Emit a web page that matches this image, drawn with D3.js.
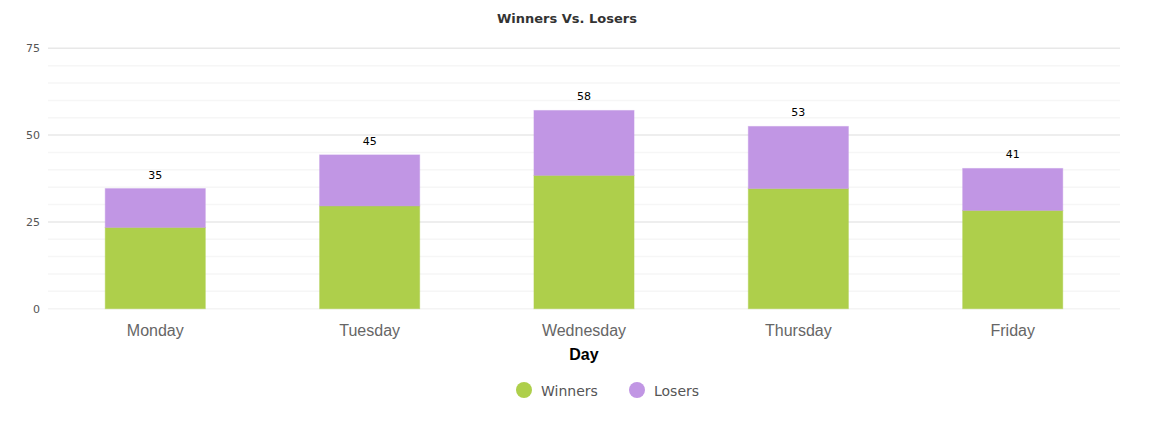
<!DOCTYPE html>
<html><head><meta charset="utf-8">
<script src="https://cdn.jsdelivr.net/npm/d3@7"></script>
<style>body{margin:0;background:#fff}svg{display:block}</style>
</head><body><div id="chart"></div>
<script>
const categories = ["Monday","Tuesday","Wednesday","Thursday","Friday"];
const winners = [23.4, 29.6, 38.4, 34.6, 28.3];
const losers = [11.2, 14.7, 18.7, 17.9, 12.1];
const totalLabels = ["35","45","58","53","41"];
const yTicks = [0,25,50,75];
const seriesNames = ["Winners","Losers"];
const colors = ["#aecf4b","#c196e4"];

const W = 1159, H = 430;
const svg = d3.select("#chart").append("svg").attr("width",W).attr("height",H);
const mLeft = 48, mRight = 1120, mTop = 48.3, mBottom = 308.7;

const x = d3.scaleBand().domain(categories).range([mLeft,mRight]).paddingInner(0.533).paddingOuter(0.267);
const y = d3.scaleLinear().domain([0,75]).range([mBottom,mTop]);

// minor grid
const minor = d3.range(0,76,5).filter(v=>v%25!==0);
svg.append("g").selectAll("line").data(minor).join("line")
  .attr("x1",mLeft).attr("x2",mRight).attr("y1",d=>y(d)).attr("y2",d=>y(d))
  .attr("stroke","#f6f6f6").attr("stroke-width",1.5);
svg.append("g").selectAll("line").data(yTicks).join("line")
  .attr("x1",mLeft).attr("x2",mRight).attr("y1",d=>y(d)).attr("y2",d=>y(d))
  .attr("stroke",d=>d===0?"#f4f4f4":"#e8e8e8").attr("stroke-width",1.5);

// y axis labels
const yAxis = d3.axisLeft(y).tickValues(yTicks).tickSize(0).tickPadding(8);
const gy = svg.append("g").attr("transform",`translate(${mLeft},0)`).call(yAxis);
gy.select(".domain").remove();
gy.selectAll("text").attr("font-family","DejaVu Sans, Verdana, sans-serif").attr("font-size",11).attr("fill","#555");

// stacked data
const rows = categories.map((c,i)=>({cat:c, Winners:winners[i], Losers:losers[i]}));
const stack = d3.stack().keys(seriesNames)(rows);
svg.append("g").selectAll("g").data(stack).join("g")
  .attr("fill",(d,i)=>colors[i])
  .attr("stroke",(d,i)=>colors[i])
  .selectAll("rect").data(d=>d).join("rect")
  .attr("x",d=>x(d.data.cat)).attr("width",x.bandwidth())
  .attr("y",d=>y(d[1])).attr("height",d=>y(d[0])-y(d[1]))
  .attr("stroke-opacity",0.45).attr("stroke-width",1);

// total labels
svg.append("g").selectAll("text").data(rows).join("text")
  .attr("x",d=>x(d.cat)+x.bandwidth()/2)
  .attr("y",(d)=>y(d.Winners+d.Losers)-10)
  .attr("text-anchor","middle").attr("font-family","DejaVu Sans, Verdana, sans-serif")
  .attr("font-size",11).attr("fill","#000")
  .text((d,i)=>totalLabels[i]);

// x axis
const xAxis = d3.axisBottom(x).tickSize(0).tickPadding(16);
const gx = svg.append("g").attr("transform",`translate(0,${mBottom})`).call(xAxis);
gx.select(".domain").remove();
gx.selectAll("text").attr("font-family","Liberation Sans, Arial, sans-serif").attr("font-size",16).attr("fill","#666");

svg.append("text").attr("x",(mLeft+mRight)/2).attr("y",360).attr("text-anchor","middle")
  .attr("font-family","Liberation Sans, Arial, sans-serif").attr("font-weight","bold").attr("font-size",16).attr("fill","#000").text("Day");

svg.append("text").attr("x",567).attr("y",23).attr("text-anchor","middle")
  .attr("font-family","DejaVu Sans, Verdana, sans-serif").attr("font-weight","bold").attr("font-size",13).attr("fill","#333").text("Winners Vs. Losers");

// legend
const legX = [524, 637];
const lg = svg.append("g").selectAll("g").data(seriesNames).join("g")
  .attr("transform",(d,i)=>`translate(${legX[i]},390)`);
lg.append("circle").attr("r",8).attr("fill",(d,i)=>colors[i]);
lg.append("text").attr("x",17).attr("y",5.5).attr("font-family","DejaVu Sans, Verdana, sans-serif")
  .attr("font-size",14).attr("fill","#555").text(d=>d);
</script></body></html>
